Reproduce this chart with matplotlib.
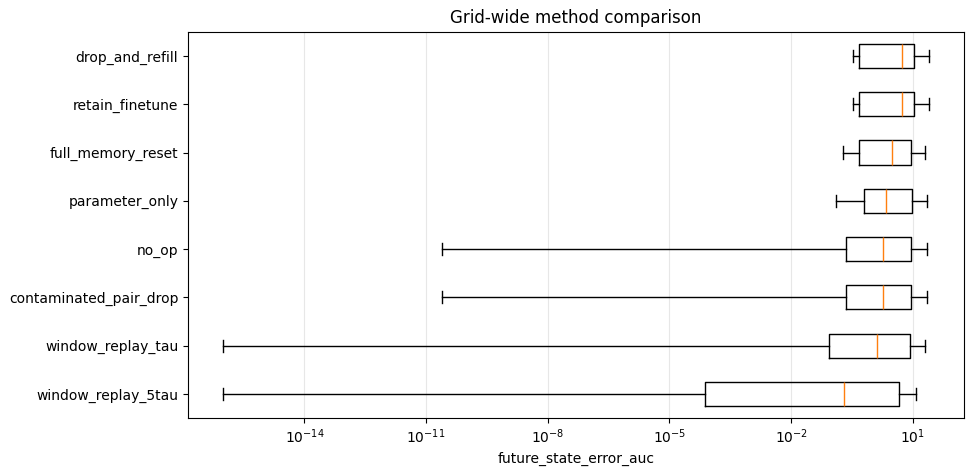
import matplotlib
matplotlib.use("Agg")
import matplotlib.pyplot as plt

# methods, bottom to top
methods = ["window_replay_5tau", "window_replay_tau", "contaminated_pair_drop", "no_op",
           "parameter_only", "full_memory_reset", "retain_finetune", "drop_and_refill"]

# box stats (log10 of future_state_error_auc)
whislo_log = [-16.0, -16.0, -10.6, -10.6, -0.90, -0.72, -0.47, -0.47]
q1_log = [-4.13, -1.07, -0.65, -0.65, -0.20, -0.33, -0.33, -0.33]
med_log = [-0.70, 0.12, 0.27, 0.27, 0.34, 0.49, 0.74, 0.74]
q3_log = [0.65, 0.93, 0.96, 0.96, 0.98, 0.96, 1.02, 1.03]
whishi_log = [1.07, 1.30, 1.34, 1.34, 1.36, 1.30, 1.40, 1.40]

stats = []
for i, m in enumerate(methods):
    stats.append({
        "label": m,
        "whislo": 10 ** whislo_log[i],
        "q1": 10 ** q1_log[i],
        "med": 10 ** med_log[i],
        "q3": 10 ** q3_log[i],
        "whishi": 10 ** whishi_log[i],
        "fliers": [],
    })

fig, ax = plt.subplots(figsize=(9.74, 4.75), dpi=100)
ax.bxp(stats, orientation="horizontal", showfliers=False)
ax.set_xscale("log")
ax.set_xlabel("future_state_error_auc")
ax.set_title("Grid-wide method comparison")
ax.grid(axis="x", alpha=0.3)
plt.subplots_adjust(left=0.193, right=0.99, top=0.933, bottom=0.12)
plt.savefig("out.png", dpi=100)
